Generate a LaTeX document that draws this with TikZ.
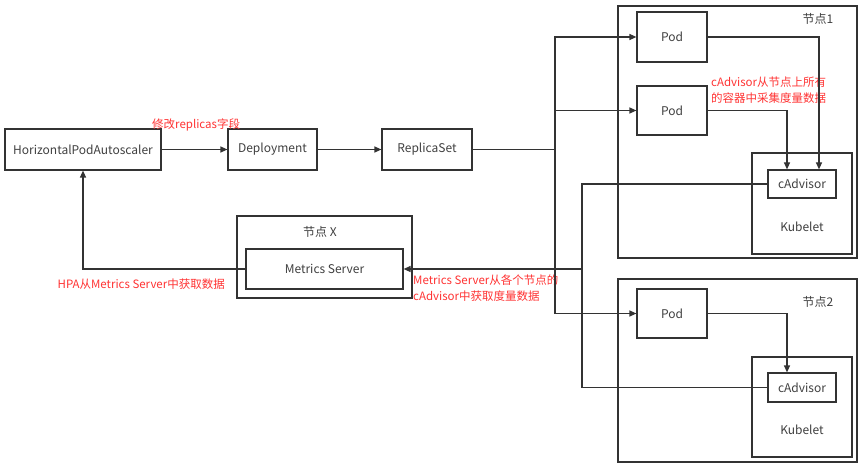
\documentclass[tikz,border=0pt]{standalone}
\usepackage{fontspec}
\setmainfont{Noto Sans CJK SC}
\usetikzlibrary{arrows.meta}
\definecolor{ln}{HTML}{333333}
\definecolor{tx}{HTML}{404040}
\definecolor{rd}{HTML}{FF3333}
\tikzset{
  box/.style={draw=ln, line width=1.2pt, inner sep=0pt, text=tx, font=\fontsize{12}{14}\selectfont},
  lbl/.style={inner sep=0pt, text=tx, font=\fontsize{12}{14}\selectfont},
  red/.style={inner sep=0pt, text=rd, font=\fontsize{11.5}{15.5}\selectfont, align=left},
  conn/.style={draw=ln, line width=1.2pt},
  arr/.style={conn, -{Triangle[length=7pt,width=6pt]}}
}
\begin{document}
\begin{tikzpicture}[x=1pt,y=-1pt]
\useasboundingbox[fill=white] (0,0) rectangle (865,468);
% outer node boxes
\node[box, minimum width=239pt, minimum height=252pt] (n1) at (737.5,132) {};
\node[box, minimum width=239pt, minimum height=183pt] (n2) at (737.5,370.5) {};
\node[box, minimum width=175pt, minimum height=82pt] (nx) at (324.5,257) {};
\node[lbl] (n1l) at (818,19) {节点1};
\node[lbl] (n2l) at (818,302) {节点2};
\node[lbl] (nxl) at (320,232) {节点 X};
% main boxes
\node[box, minimum width=156pt, minimum height=41pt] (hpa) at (83,149.5) {HorizontalPodAutoscaler};
\node[box, minimum width=89pt, minimum height=41pt] (dep) at (272.5,149.5) {Deployment};
\node[box, minimum width=90pt, minimum height=41pt] (rs) at (427,149.5) {ReplicaSet};
\node[box, minimum width=157pt, minimum height=40pt] (ms) at (324.5,269) {Metrics Server};
\node[box, minimum width=70pt, minimum height=50pt] (pod1) at (672,37) {Pod};
\node[box, minimum width=70pt, minimum height=49pt] (pod2) at (672,110.5) {Pod};
\node[box, minimum width=70pt, minimum height=49pt] (pod3) at (672,313.5) {Pod};
\node[box, minimum width=100pt, minimum height=101pt] (kub1) at (802,203.5) {};
\node[box, minimum width=100pt, minimum height=100pt] (kub2) at (802,407) {};
\node[lbl] (kub1l) at (802,227) {Kubelet};
\node[lbl] (kub2l) at (802,430) {Kubelet};
\node[box, minimum width=68pt, minimum height=28pt] (cad1) at (802,184) {cAdvisor};
\node[box, minimum width=68pt, minimum height=29pt] (cad2) at (802,387.5) {cAdvisor};
% red labels
\node[red, anchor=south west] (l1) at (152,131) {修改replicas字段};
\node[red, anchor=north west] (l2) at (711,77) {cAdvisor从节点上所有\\的容器中采集度量数据};
\node[red, anchor=north west] (l3) at (413,275) {Metrics Server从各个节点的\\cAdvisor中获取度量数据};
\node[red, anchor=east] (l4) at (225,284) {HPA从Metrics Server中获取数据};
% connectors
\coordinate (j) at (555,149.5);
\coordinate (m) at (582,269);
\draw[arr] (hpa) -- (dep);
\draw[arr] (dep) -- (rs);
\draw[conn] (rs.east) -- (j);
\draw[arr] (j) |- (pod1.west);
\draw[arr] (j) |- (pod2.west);
\draw[arr] (j) |- (pod3.west);
\draw[arr] (pod1.east) -| ([xshift=17pt]cad1.north);
\draw[arr] (pod2.east) -| ([xshift=-15pt]cad1.north);
\draw[arr] (pod3.east) -| ([xshift=-15pt]cad2.north);
\draw[conn] (cad1.west) -| (m);
\draw[conn] (cad2.west) -| (m);
\draw[arr] (m) -- (ms.east);
\draw[arr] (ms.west) -| (hpa.south);
\end{tikzpicture}
\end{document}
